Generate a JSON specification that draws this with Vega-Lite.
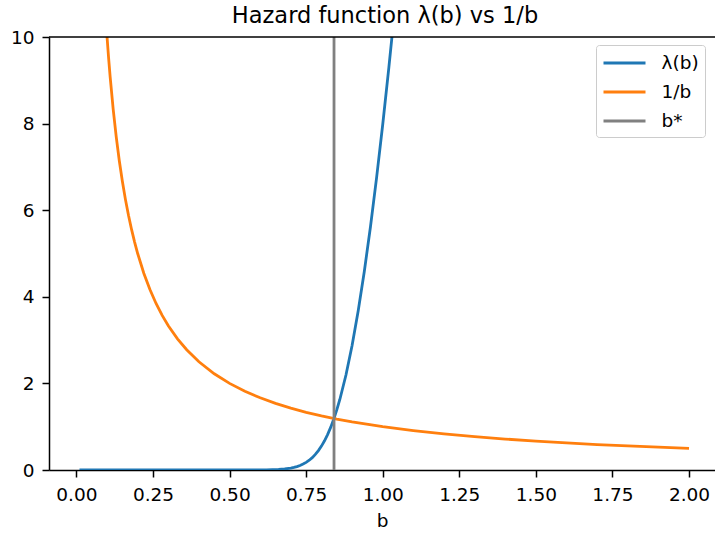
{
  "$schema": "https://vega.github.io/schema/vega-lite/v6.json",
  "width": 666,
  "height": 433,
  "autosize": {"type": "none"},
  "padding": {"left": 49, "top": 37, "right": 0, "bottom": 66},
  "background": "white",
  "config": {
    "view": {"stroke": null},
    "font": "DejaVu Sans",
    "axis": {
      "grid": false,
      "domainColor": "black",
      "domainWidth": 1.5,
      "tickColor": "black",
      "tickWidth": 1.5,
      "tickSize": 7,
      "labelFont": "DejaVu Sans",
      "labelFontSize": 18.5,
      "labelColor": "black",
      "labelPadding": 7,
      "titleFont": "DejaVu Sans",
      "titleFontSize": 18.5,
      "titleFontWeight": "normal",
      "titleColor": "black"
    }
  },
  "title": {
    "text": "Hazard function λ(b) vs 1/b",
    "font": "DejaVu Sans",
    "fontSize": 22.5,
    "fontWeight": "normal",
    "color": "black",
    "anchor": "middle",
    "frame": "group",
    "offset": 1,
    "dx": 3
  },
  "datasets": {
    "curves": [
      {"b": 0.01, "y": 0, "series": "λ(b)"},
      {"b": 0.1, "y": 0, "series": "λ(b)"},
      {"b": 0.2, "y": 0, "series": "λ(b)"},
      {"b": 0.3, "y": 0, "series": "λ(b)"},
      {"b": 0.4, "y": 0, "series": "λ(b)"},
      {"b": 0.5, "y": 0.00001, "series": "λ(b)"},
      {"b": 0.55, "y": 0.00016, "series": "λ(b)"},
      {"b": 0.6, "y": 0.00134, "series": "λ(b)"},
      {"b": 0.62, "y": 0.00292, "series": "λ(b)"},
      {"b": 0.64, "y": 0.00612, "series": "λ(b)"},
      {"b": 0.66, "y": 0.01233, "series": "λ(b)"},
      {"b": 0.68, "y": 0.02386, "series": "λ(b)"},
      {"b": 0.70, "y": 0.04438, "series": "λ(b)"},
      {"b": 0.71, "y": 0.0595, "series": "λ(b)"},
      {"b": 0.72, "y": 0.07935, "series": "λ(b)"},
      {"b": 0.73, "y": 0.1046, "series": "λ(b)"},
      {"b": 0.74, "y": 0.13647, "series": "λ(b)"},
      {"b": 0.75, "y": 0.1764, "series": "λ(b)"},
      {"b": 0.76, "y": 0.2258, "series": "λ(b)"},
      {"b": 0.77, "y": 0.2862, "series": "λ(b)"},
      {"b": 0.78, "y": 0.35975, "series": "λ(b)"},
      {"b": 0.79, "y": 0.4479, "series": "λ(b)"},
      {"b": 0.80, "y": 0.55248, "series": "λ(b)"},
      {"b": 0.81, "y": 0.6756, "series": "λ(b)"},
      {"b": 0.82, "y": 0.81892, "series": "λ(b)"},
      {"b": 0.83, "y": 0.9843, "series": "λ(b)"},
      {"b": 0.84, "y": 1.17352, "series": "λ(b)"},
      {"b": 0.85, "y": 1.3878, "series": "λ(b)"},
      {"b": 0.86, "y": 1.62882, "series": "λ(b)"},
      {"b": 0.88, "y": 2.19436, "series": "λ(b)"},
      {"b": 0.90, "y": 2.87602, "series": "λ(b)"},
      {"b": 0.92, "y": 3.67564, "series": "λ(b)"},
      {"b": 0.94, "y": 4.59146, "series": "λ(b)"},
      {"b": 0.96, "y": 5.61884, "series": "λ(b)"},
      {"b": 0.98, "y": 6.75073, "series": "λ(b)"},
      {"b": 1.00, "y": 7.97885, "series": "λ(b)"},
      {"b": 1.02, "y": 9.29417, "series": "λ(b)"},
      {"b": 1.04, "y": 10.6875, "series": "λ(b)"},
      {"b": 0.1, "y": 10.0, "series": "1/b"},
      {"b": 0.105, "y": 9.524, "series": "1/b"},
      {"b": 0.11, "y": 9.091, "series": "1/b"},
      {"b": 0.12, "y": 8.333, "series": "1/b"},
      {"b": 0.13, "y": 7.692, "series": "1/b"},
      {"b": 0.14, "y": 7.143, "series": "1/b"},
      {"b": 0.15, "y": 6.667, "series": "1/b"},
      {"b": 0.16, "y": 6.25, "series": "1/b"},
      {"b": 0.17, "y": 5.882, "series": "1/b"},
      {"b": 0.18, "y": 5.556, "series": "1/b"},
      {"b": 0.19, "y": 5.263, "series": "1/b"},
      {"b": 0.2, "y": 5.0, "series": "1/b"},
      {"b": 0.22, "y": 4.545, "series": "1/b"},
      {"b": 0.24, "y": 4.167, "series": "1/b"},
      {"b": 0.26, "y": 3.846, "series": "1/b"},
      {"b": 0.28, "y": 3.571, "series": "1/b"},
      {"b": 0.3, "y": 3.333, "series": "1/b"},
      {"b": 0.33, "y": 3.03, "series": "1/b"},
      {"b": 0.36, "y": 2.778, "series": "1/b"},
      {"b": 0.4, "y": 2.5, "series": "1/b"},
      {"b": 0.45, "y": 2.222, "series": "1/b"},
      {"b": 0.5, "y": 2.0, "series": "1/b"},
      {"b": 0.55, "y": 1.818, "series": "1/b"},
      {"b": 0.6, "y": 1.667, "series": "1/b"},
      {"b": 0.65, "y": 1.538, "series": "1/b"},
      {"b": 0.7, "y": 1.429, "series": "1/b"},
      {"b": 0.75, "y": 1.333, "series": "1/b"},
      {"b": 0.8, "y": 1.25, "series": "1/b"},
      {"b": 0.85, "y": 1.176, "series": "1/b"},
      {"b": 0.9, "y": 1.111, "series": "1/b"},
      {"b": 1.0, "y": 1.0, "series": "1/b"},
      {"b": 1.1, "y": 0.909, "series": "1/b"},
      {"b": 1.2, "y": 0.833, "series": "1/b"},
      {"b": 1.3, "y": 0.769, "series": "1/b"},
      {"b": 1.4, "y": 0.714, "series": "1/b"},
      {"b": 1.5, "y": 0.667, "series": "1/b"},
      {"b": 1.6, "y": 0.625, "series": "1/b"},
      {"b": 1.7, "y": 0.588, "series": "1/b"},
      {"b": 1.8, "y": 0.556, "series": "1/b"},
      {"b": 1.9, "y": 0.526, "series": "1/b"},
      {"b": 2.0, "y": 0.5, "series": "1/b"}
    ],
    "bstar": [{"b": 0.841, "series": "b*"}],
    "topspine": [{"y": 10}]
  },
  "layer": [
    {
      "data": {"name": "curves"},
      "mark": {"type": "line", "clip": true, "strokeWidth": 2.8},
      "encoding": {
        "x": {
          "field": "b", "type": "quantitative",
          "scale": {"domain": [-0.0895, 2.0848], "nice": false, "zero": false},
          "axis": {"values": [0, 0.25, 0.5, 0.75, 1.0, 1.25, 1.5, 1.75, 2.0], "format": ".2f", "title": "b", "orient": "bottom", "labelPadding": 8, "titlePadding": 8}
        },
        "y": {
          "field": "y", "type": "quantitative",
          "scale": {"domain": [0, 10], "nice": false},
          "axis": {"values": [0, 2, 4, 6, 8, 10], "title": null, "labelPadding": 8}
        },
        "color": {
          "field": "series", "type": "nominal",
          "scale": {"domain": ["λ(b)", "1/b", "b*"], "range": ["#1f77b4", "#ff7f0e", "#808080"]},
          "legend": {
            "title": null,
            "orient": "none",
            "legendX": 547,
            "legendY": 8,
            "symbolType": "M-1,0H3",
            "symbolSize": 441,
            "symbolStrokeWidth": 2.8,
            "labelFont": "DejaVu Sans",
            "labelFontSize": 18.5,
            "labelColor": "black",
            "labelOffset": 35.5,
            "rowPadding": 7,
            "padding": 6,
            "strokeColor": "#cccccc",
            "fillColor": "white",
            "cornerRadius": 3
          }
        },
        "detail": {"field": "series"}
      }
    },
    {
      "data": {"name": "bstar"},
      "mark": {"type": "rule", "strokeWidth": 2.8},
      "encoding": {
        "x": {"field": "b", "type": "quantitative"},
        "color": {"field": "series", "type": "nominal"}
      }
    },
    {
      "data": {"name": "topspine"},
      "mark": {"type": "rule", "color": "black", "strokeWidth": 1.5},
      "encoding": {
        "y": {"field": "y", "type": "quantitative"}
      }
    }
  ]
}
